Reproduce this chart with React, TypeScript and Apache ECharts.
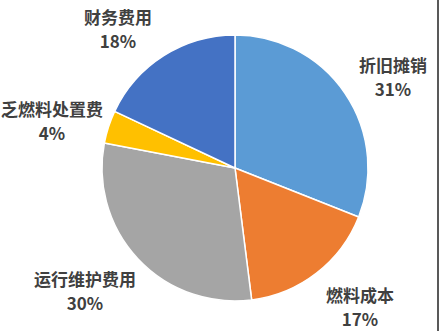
import React, { useEffect, useRef } from "react";
import * as echarts from "echarts";

// Cost composition
const categories = ["折旧摊销", "燃料成本", "运行维护费用", "乏燃料处置费", "财务费用"];
const shares = [31, 17, 30, 4, 18];
const colors = ["#5B9BD5", "#ED7D31", "#A5A5A5", "#FFC000", "#4472C4"];

// Label anchor points (chart pixels), one per slice
const labelX = [393, 360, 85, 52, 118];
const labelY = [76, 306, 290, 120, 28];

export default function App() {
  const ref = useRef<HTMLDivElement>(null);

  useEffect(() => {
    if (!ref.current) return;
    const chart = echarts.init(ref.current, undefined, { renderer: "svg" });
    chart.setOption({
      animation: false,
      backgroundColor: "#ffffff",
      graphic: [
        {
          type: "line",
          shape: { x1: 438, y1: 0, x2: 438, y2: 331 },
          style: { stroke: "#222222", lineWidth: 1.5 },
        },
      ],
      series: [
        {
          type: "pie",
          center: [235, 168],
          radius: 133,
          startAngle: 90,
          clockwise: true,
          avoidLabelOverlap: false,
          data: categories.map((name, i) => ({
            name,
            value: shares[i],
            itemStyle: { color: colors[i] },
          })),
          itemStyle: { borderColor: "#ffffff", borderWidth: 1.5 },
          label: {
            show: true,
            position: "outside",
            formatter: (p: any) => `${p.name}\n${p.value}%`,
            fontFamily: "Noto Sans CJK SC",
            fontSize: 17,
            fontWeight: "bold",
            color: "#404040",
            lineHeight: 24,
            align: "center",
          },
          labelLine: { show: false },
          labelLayout: (p: any) => ({
            x: labelX[p.dataIndex],
            y: labelY[p.dataIndex],
            align: "center",
            verticalAlign: "middle",
          }),
        },
      ],
    });
    return () => chart.dispose();
  }, []);

  return (
    <div
      ref={ref}
      style={{ position: "fixed", left: 0, top: 0, width: 440, height: 331 }}
    />
  );
}
